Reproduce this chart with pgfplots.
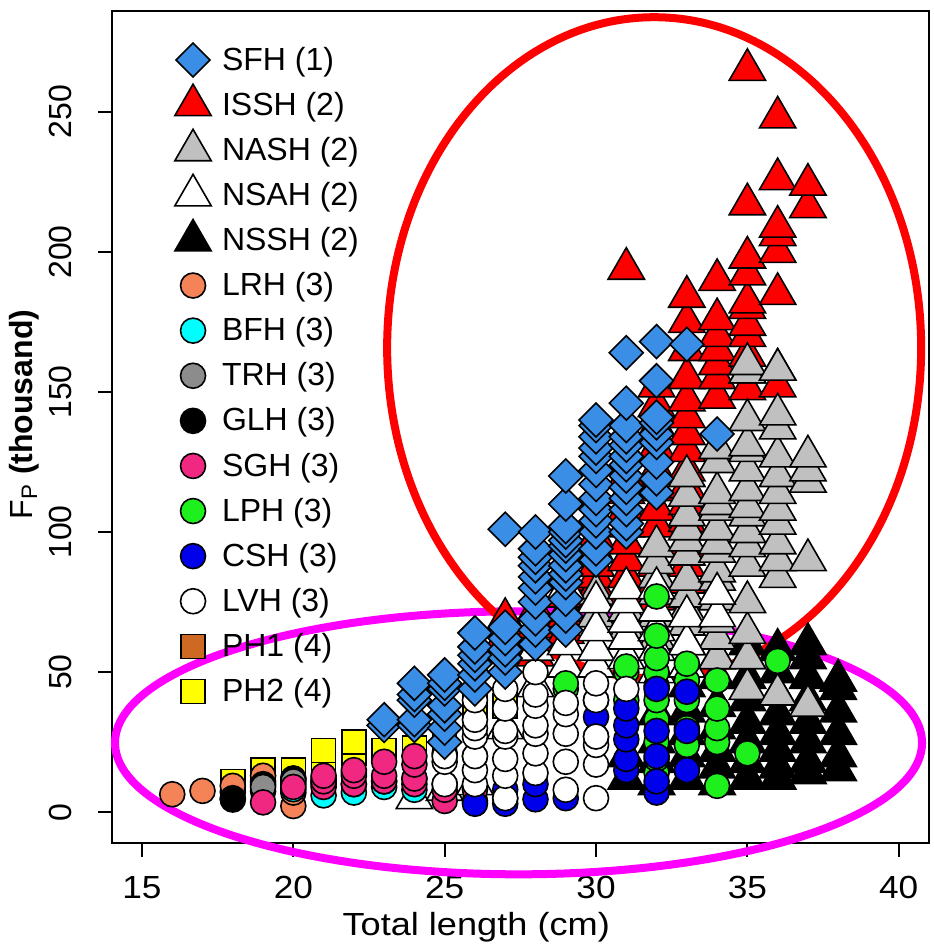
\documentclass[border=0pt]{standalone}
\usepackage{fontspec}
\setmainfont{Liberation Sans}
\usepackage{pgfplots}
\pgfplotsset{compat=1.18}
\definecolor{csfh}{RGB}{58,142,230}
\definecolor{cissh}{RGB}{255,0,0}
\definecolor{cnash}{RGB}{192,192,192}
\definecolor{clrh}{RGB}{244,132,88}
\definecolor{cbfh}{RGB}{0,255,255}
\definecolor{ctrh}{RGB}{140,140,140}
\definecolor{csgh}{RGB}{240,40,130}
\definecolor{clph}{RGB}{30,240,30}
\definecolor{ccsh}{RGB}{0,0,235}
\definecolor{cph1}{RGB}{205,105,35}
\definecolor{cph2}{RGB}{255,255,0}
\definecolor{cmag}{RGB}{255,0,255}
\pgfplotsset{
  dia/.style={only marks, mark=square*, mark size=6pt, mark options={draw=black, line width=0.8pt, fill=#1, rotate=45}},
  tri/.style={only marks, mark=triangle*, mark size=10.5pt, mark options={draw=black, line width=0.8pt, fill=#1}},
  cir/.style={only marks, mark=*, mark size=6.25pt, mark options={draw=black, line width=0.8pt, fill=#1}},
  sqr/.style={only marks, mark=square*, mark size=6pt, mark options={draw=black, line width=0.8pt, fill=#1}},
}
\begin{document}
\begin{tikzpicture}[font=\fontsize{16}{19}\selectfont]
\begin{axis}[
  at={(55.85pt,54pt)}, anchor=south west,
  scale only axis, width=408.65pt, height=416pt,
  xmin=14, xmax=41, ymin=-11, ymax=286,
  xtick={15,20,...,40}, ytick={0,50,...,250},
  tick pos=left, tick align=outside, major tick length=6.85pt,
  axis line style={line width=1pt},
  every tick/.style={black, line width=1pt},
  /pgf/number format/assume math mode=true,
  tick label style={font=\fontsize{16}{19}\selectfont},
  xticklabel style={anchor=base, inner sep=0pt, xscale=1.1},
  yticklabel style={rotate=90, anchor=south, inner sep=0pt},
  xticklabel shift=20.65pt,
  yticklabel shift=13pt,
  xlabel={Total length (cm)},
  ylabel={F\textsubscript{P} \textbf{(thousand)}},
  every axis x label/.style={at={(axis description cs:0.446,-0.1106)}, anchor=base, xscale=1.13},
  every axis y label/.style={at={(axis description cs:-0.0975,0.515)}, rotate=90, anchor=base},
  clip=false,
  legend image code/.code={\path[draw=none,fill=none] (-11pt,-11pt) rectangle (11pt,11pt); \draw[#1] plot coordinates {(0pt,0pt)};},
  legend cell align=left,
  legend style={at={(axis description cs:0.0726,0.9675)}, anchor=north west,
    draw=none, fill=none, inner sep=0pt, outer sep=0pt,
    row sep=0.55pt, column sep=3.5pt, nodes={inner sep=0pt},
    font=\fontsize{16}{19}\selectfont},
]
% NSSH
\addplot[tri=black, forget plot] coordinates {(31,12)(31,20)(32,10)(32,18)(32,25)(32,35)(33,12)(33,20)(33,28)(33,36)(33,45)(34,10)(34,16)(34,22)(34,30)(34,38)(34,48)(34,55)(35,12)(35,18)(35,25)(35,32)(35,40)(35,48)(35,55)(35,60)(36,12)(36,16)(36,22)(36,28)(36,35)(36,42)(36,50)(36,58)(37,14)(37,18)(37,25)(37,32)(37,40)(37,48)(37,55)(37,60)(38,15)(38,20)(38,28)(38,36)(38,44)(38,47)};
% ISSH
\addplot[tri=cissh, forget plot] coordinates {(27,58)(27,63)(27,69)(28,56)(28,61)(28,66)(28,72)(29,64)(29,70)(29,77)(29,83)(30,76)(30,80)(30,84)(30,88)(30,93)(30,98)(31,78)(31,84)(31,90)(31,96)(31,102)(31,108)(31,114)(31,120)(31,194)(32,76)(32,82)(32,88)(32,95)(32,102)(32,108)(32,115)(32,122)(32,130)(32,138)(32,145)(32,152)(33,82)(33,88)(33,95)(33,104)(33,110)(33,116)(33,122)(33,129)(33,135)(33,141)(33,147)(33,155)(33,165)(33,175)(33,184)(34,148)(34,155)(34,160)(34,165)(34,170)(34,176)(34,190)(35,151)(35,157)(35,163)(35,170)(35,174)(35,180)(35,182)(35,192)(35,198)(35,217)(35,265)(36,152)(36,158)(36,185)(36,200)(36,206)(36,209)(36,226)(36,248)(37,216)(37,224)};
% NASH
\addplot[tri=cnash, forget plot] coordinates {(29,72)(30,70)(30,78)(31,65)(31,72)(31,80)(32,62)(32,70)(32,78)(32,84)(32,89)(32,95)(33,60)(33,67)(33,72)(33,77)(33,83)(33,92)(33,97)(33,101)(33,106)(33,113)(33,120)(34,55)(34,62)(34,68)(34,76)(34,83)(34,86)(34,93)(34,96)(34,101)(34,108)(34,110)(34,114)(34,125)(34,130)(35,44)(35,55)(35,64)(35,75)(35,88)(35,95)(35,100)(35,106)(35,109)(35,115)(35,122)(35,129)(35,131)(35,140)(35,157)(35,160)(36,42)(36,84)(36,90)(36,96)(36,103)(36,108)(36,114)(36,120)(36,127)(36,137)(36,142)(36,158)(37,38)(37,90)(37,118)(37,122)(37,127)};
% NSAH
\addplot[tri=white, forget plot] coordinates {(24,5)(25,8)(26,10)(27,30)(28,45)(28,58)(29,52)(29,60)(29,80)(30,52)(30,58)(30,65)(30,75)(31,55)(31,62)(31,68)(31,75)(31,80)(32,50)(32,58)(32,65)(32,72)(32,80)(33,52)(33,60)(33,70)(34,70)(34,78)};
% PH1
\addplot[sqr=cph1, forget plot] coordinates {(19,13)(20,13)(21,18)};
% PH2
\addplot[sqr=cph2, forget plot] coordinates {(18,11)(19,15)(20,15)(21,17)(21,22)(22,21)(22,25)(23,22)(24,23)(25,25)(26,38)(27,38)};
% LRH
\addplot[cir=clrh, forget plot] coordinates {(16,6.4)(17,7.6)(18,4.5)(18,7.2)(18,9.4)(19,7.5)(19,11)(19,13)(20,2.2)(20,7)(20,10)(20,12)};
% GLH
\addplot[cir=black, forget plot] coordinates {(18,5)(19,10)(20,12)(21,11)(22,14)};
% TRH
\addplot[cir=ctrh, forget plot] coordinates {(19,9)(20,11)(21,10)};
% BFH
\addplot[cir=cbfh, forget plot] coordinates {(20,8.2)(21,6)(21,12)(22,7)(22,10)(23,9)(23,11)(24,8)(24,12)(25,10)};
% SGH
\addplot[cir=csgh, forget plot] coordinates {(19,3.5)(20,9)(21,9)(21,11)(21,13)(22,10)(22,13)(22,15)(23,11)(23,13)(23,18)(24,10)(24,12)(24,17)(24,20)(25,4)(25,8)(25,21)(26,4)(26,8)(26,20)(27,5)};
% LPH
\addplot[cir=clph, forget plot] coordinates {(29,44)(29,46)(30,40)(31,40)(31,50)(31,52)(32,14)(32,19)(32,25)(32,33)(32,40)(32,45)(32,50)(32,55)(32,63)(32,77)(33,15)(33,24)(33,30)(33,40)(33,47)(33,53)(34,9.4)(34,25)(34,30)(34,37)(34,47)(35,21)(36,54)};
% CSH
\addplot[cir=ccsh, forget plot] coordinates {(26,3)(27,3)(27,8)(28,4.6)(28,10)(29,5)(30,27)(30,34)(31,15)(31,19)(31,26)(31,31)(31,37)(32,7)(32,11)(32,20)(32,29)(32,44)(33,15)(33,29)(33,43)};
% LVH
\addplot[cir=white, forget plot] coordinates {(25,10)(25,18)(25,20)(26,10)(26,15)(26,20)(26,27)(26,30)(26,33)(26,40)(27,5)(27,13)(27,19)(27,27)(27,29)(27,37)(27,44)(28,14)(28,21)(28,28)(28,31)(28,38)(28,42)(28,50)(29,8)(29,18)(29,28)(29,35)(29,39)(30,5)(30,17)(30,24)(30,27)(30,40)(30,46)(31,44)};
% SFH
\addplot[dia=csfh, forget plot] coordinates {(23,31)(23,33)(24,31)(24,33)(24,40)(24,42)(24,46)(25,25)(25,30)(25,35)(25,38)(25,44)(25,46)(25,49)(26,44)(26,49)(26,53)(26,56)(26,59)(26,64)(27,50)(27,55)(27,58)(27,62)(27,66)(27,101)(28,60)(28,65)(28,69)(28,75)(28,80)(28,84)(28,88)(28,91)(28,94)(28,100)(29,65)(29,70)(29,76)(29,82)(29,85)(29,88)(29,92)(29,95)(29,97)(29,100)(29,102)(29,110)(29,120)(30,90)(30,94)(30,100)(30,104)(30,108)(30,112)(30,117)(30,122)(30,127)(30,130)(30,134)(30,138)(30,140)(31,100)(31,103)(31,108)(31,112)(31,116)(31,120)(31,124)(31,127)(31,131)(31,134)(31,138)(31,146)(31,164)(32,114)(32,119)(32,125)(32,132)(32,135)(32,139)(32,141)(32,154)(32,168)(33,167)(34,135)};
% legend
\addlegendimage{dia=csfh}\addlegendentry{SFH (1)}
\addlegendimage{tri=cissh}\addlegendentry{ISSH (2)}
\addlegendimage{tri=cnash}\addlegendentry{NASH (2)}
\addlegendimage{tri=white}\addlegendentry{NSAH (2)}
\addlegendimage{tri=black}\addlegendentry{NSSH (2)}
\addlegendimage{cir=clrh}\addlegendentry{LRH (3)}
\addlegendimage{cir=cbfh}\addlegendentry{BFH (3)}
\addlegendimage{cir=ctrh}\addlegendentry{TRH (3)}
\addlegendimage{cir=black}\addlegendentry{GLH (3)}
\addlegendimage{cir=csgh}\addlegendentry{SGH (3)}
\addlegendimage{cir=clph}\addlegendentry{LPH (3)}
\addlegendimage{cir=ccsh}\addlegendentry{CSH (3)}
\addlegendimage{cir=white}\addlegendentry{LVH (3)}
\addlegendimage{sqr=cph1}\addlegendentry{PH1 (4)}
\addlegendimage{sqr=cph2}\addlegendentry{PH2 (4)}
\draw[cmag, line width=4pt] (axis cs:27.44,24.76) ellipse [x radius=201.75pt, y radius=65.75pt];
\draw[red, line width=4pt] (axis cs:31.92,165.8) ellipse [x radius=133.5pt, y radius=165.25pt];
\end{axis}
\pgfresetboundingbox
\path[use as bounding box] (0,0) rectangle (466.5pt,475.5pt);
\end{tikzpicture}
\end{document}
